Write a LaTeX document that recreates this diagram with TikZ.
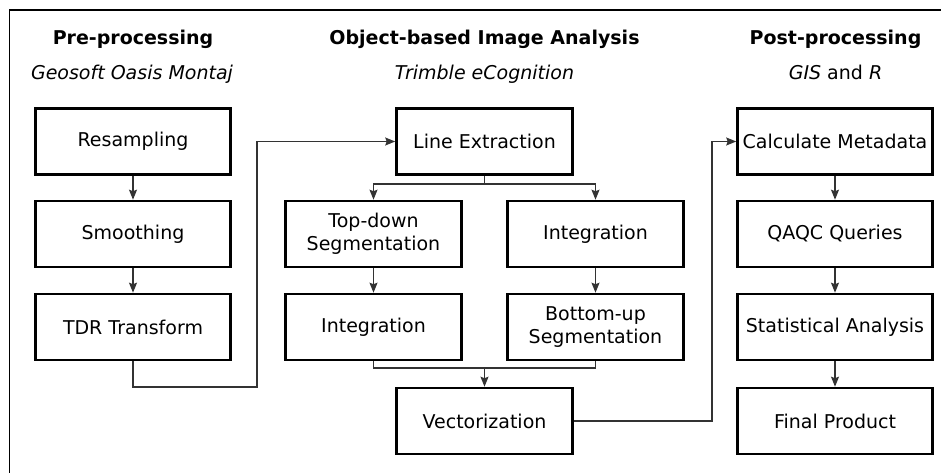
\documentclass[tikz,border=0pt]{standalone}
\usepackage{fontspec}
\setmainfont{DejaVu Sans}
\usetikzlibrary{arrows.meta}
\begin{document}
\begin{tikzpicture}[x=1pt,y=-1pt,
  box/.style={draw=black,line width=2.6pt,minimum height=66pt,align=center,
    font=\fontsize{19}{23.3}\selectfont,inner sep=0pt},
  sidebox/.style={box,minimum width=195pt},
  midbox/.style={box,minimum width=176pt},
  conn/.style={draw=black!80,line width=1.1pt},
  arr/.style={conn,-{Stealth[length=10pt,width=8pt,inset=1.5pt]}},
  ttl/.style={anchor=base,font=\fontsize{19}{23}\selectfont\bfseries},
  sub/.style={anchor=base,font=\fontsize{19}{23}\selectfont}]
\useasboundingbox (0,0) rectangle (941,473);
\draw[line width=1.6pt] (941,10) -- (9.5,10) -- (9.5,473);

% titles
\node[ttl] (t1) at (133,45) {Pre-processing};
\node[sub] (s1) at (132,80) {\itshape Geosoft Oasis Montaj};
\node[ttl] (t2) at (484.5,45) {Object-based Image Analysis};
\node[sub] (s2) at (484.5,80) {\itshape Trimble eCognition};
\node[ttl] (t3) at (835.5,45) {Post-processing};
\node[sub] (s3) at (835.5,80) {\textit{GIS} and \textit{R}};

% left column
\node[sidebox] (res) at (133,141.5) {Resampling};
\node[sidebox] (smo) at (133,234) {Smoothing};
\node[sidebox] (tdr) at (133,327) {TDR Transform};

% middle
\node[midbox] (lex) at (484.5,141.5) {Line Extraction};
\node[midbox] (tds) at (373.5,234) {Top-down\\Segmentation};
\node[midbox] (inr) at (595.5,234) {Integration};
\node[midbox] (inl) at (373.5,327) {Integration};
\node[midbox] (bus) at (595.5,327) {Bottom-up\\Segmentation};
\node[midbox] (vec) at (484.5,421) {Vectorization};

% right column
\node[sidebox] (cmd) at (835,141.5) {Calculate Metadata};
\node[sidebox] (qaq) at (835,234) {QAQC Queries};
\node[sidebox] (sta) at (835,327) {Statistical Analysis};
\node[sidebox] (fin) at (835,421) {Final Product};

\coordinate (c1) at (133,387);
\coordinate (c2) at (257,387);
\coordinate (c3) at (257,141.5);
\coordinate (sp) at (484.5,184);
\coordinate (sl) at (373.5,184);
\coordinate (sr) at (595.5,184);
\coordinate (ml) at (373.5,368);
\coordinate (mr) at (595.5,368);
\coordinate (mm) at (484.5,368);
\coordinate (v1) at (712,421);
\coordinate (v2) at (712,141.5);

% connectors
\draw[arr] (res) -- (smo);
\draw[arr] (smo) -- (tdr);
\draw[arr] (tdr.south) -- (c1) -- (c2) -- (c3) -- (lex.west);
\draw[conn] (lex.south) -- (sp);
\draw[arr] (sp) -- (sl) -- (tds.north);
\draw[arr] (sp) -- (sr) -- (inr.north);
\draw[arr] (tds) -- (inl);
\draw[arr] (inr) -- (bus);
\draw[conn] (inl.south) -- (ml) -- (mr) -- (bus.south);
\draw[arr] (mm) -- (vec.north);
\draw[arr] (vec.east) -- (v1) -- (v2) -- (cmd.west);
\draw[arr] (cmd) -- (qaq);
\draw[arr] (qaq) -- (sta);
\draw[arr] (sta) -- (fin);
\end{tikzpicture}
\end{document}
